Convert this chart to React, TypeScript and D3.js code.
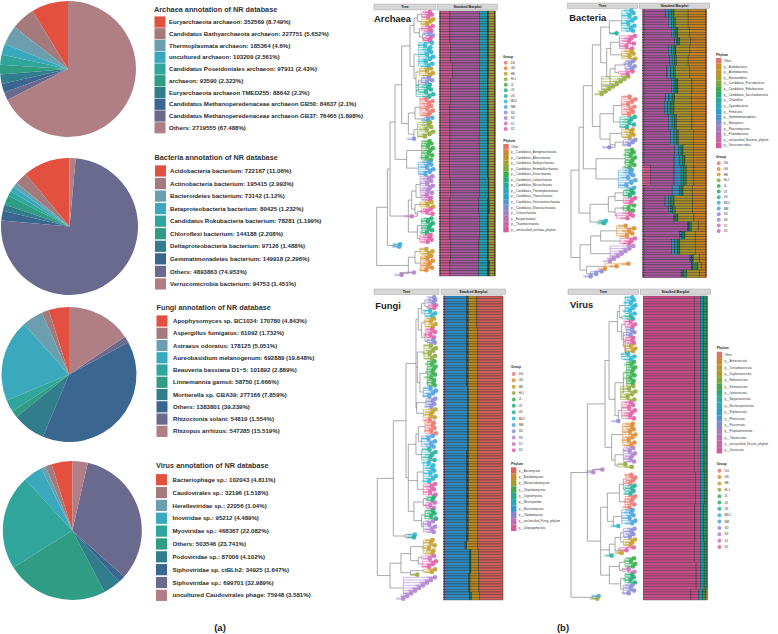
import React from 'react';
import * as d3 from 'd3';

// ---- part (a): NR annotation pies ----
const pieColors = ['#e4503f', '#a47a7c', '#6b9fb0', '#3aa9bd', '#2fa59c', '#2f9c84', '#317d8b', '#3a6690', '#6a6a8e', '#b07f86'];

const archaeaNames = ['Euryarchaeota archaeon', 'Candidatus Bathyarchaeota archaeon', 'Thermoplasmata archaeon', 'uncultured archaeon', 'Candidatus Poseidoniales archaeon', 'archaeon', 'Euryarchaeota archaeon TMED255', 'Candidatus Methanoperedenaceae archaeon GB50', 'Candidatus Methanoperedenaceae archaeon GB37', 'Others'];
const archaeaValues = [352569, 227751, 185364, 103209, 97911, 93590, 88642, 84637, 76465, 2719555];
const archaeaPct = ['8.749', '5.652', '4.6', '2.561', '2.43', '2.323', '2.2', '2.1', '1.898', '67.488'];

const bacteriaNames = ['Acidobacteria bacterium', 'Actinobacteria bacterium', 'Bacteroidetes bacterium', 'Betaproteobacteria bacterium', 'Candidatus Rokubacteria bacterium', 'Chloroflexi bacterium', 'Deltaproteobacteria bacterium', 'Gemmatimonadetes bacterium', 'Others', 'Verrucomicrobia bacterium'];
const bacteriaValues = [722167, 195415, 73142, 80425, 78281, 144188, 97126, 149918, 4893863, 94753];
const bacteriaPct = ['11.06', '2.993', '1.12', '1.232', '1.199', '2.208', '1.488', '2.296', '74.953', '1.451'];

const fungiNames = ['Apophysomyces sp. BC1034', 'Aspergillus fumigatus', 'Astraeus odoratus', 'Aureobasidium melanogenum', 'Beauveria bassiana D1−5', 'Linnemannia gamsii', 'Mortierella sp. GBA39', 'Others', 'Rhizoctonia solani', 'Rhizopus arrhizus'];
const fungiValues = [170780, 61092, 178125, 692889, 101892, 58750, 277166, 1383801, 54819, 547285];
const fungiPct = ['4.843', '1.732', '5.051', '19.648', '2.889', '1.666', '7.859', '39.239', '1.554', '15.519'];

const virusNames = ['Bacteriophage sp.', 'Caudovirales sp.', 'Herelleviridae sp.', 'Inoviridae sp.', 'Myoviridae sp.', 'Others', 'Podoviridae sp.', 'Siphoviridae sp. ctBLh2', 'Siphoviridae sp.', 'uncultured Caudovirales phage'];
const virusValues = [102043, 32196, 22056, 95212, 468367, 503546, 87006, 34925, 699701, 75948];
const virusPct = ['4.811', '1.518', '1.04', '4.489', '22.082', '23.741', '4.102', '1.647', '32.989', '3.581'];

// ---- part (b): sample groups and phyla ----
const groups = ['DG', 'GS', 'HB', 'HLJ', 'JL', 'JX', 'LN', 'MDJ', 'NM', 'SD', 'SX', 'XJ', 'XZ'];
const groupColors = ['#ec7a72', '#e08c35', '#c5a030', '#93ab3f', '#3bb050', '#22ae72', '#25b29e', '#2fb7d0', '#4da3e0', '#8b8fd8', '#b083cf', '#d070c0', '#e360a6'];

const phylumColors16 = ['#e0736c', '#ce872e', '#bc962b', '#a39e2d', '#7ba83a', '#3fa84f', '#2ba874', '#2aa795', '#2aa6b4', '#2aa0cc', '#4b95d0', '#7f8bca', '#a27fc0', '#b66fb2', '#c865a5', '#d95a98'];
const phylumColors10 = ['#d9625c', '#c98a26', '#a39e2d', '#3fa84f', '#2aa78a', '#2aa6b4', '#2a9dd0', '#8b85cc', '#c06ab0', '#d95a98'];

const archaeaPhyla = ['Other', 'p__Candidatus_Aenigmarchaeota', 'p__Candidatus_Altiarchaeota', 'p__Candidatus_Bathyarchaeota', 'p__Candidatus_Heimdallarchaeota', 'p__Candidatus_Korarchaeota', 'p__Candidatus_Lokiarchaeota', 'p__Candidatus_Micrarchaeota', 'p__Candidatus_Thermoplasmatota', 'p__Candidatus_Thorarchaeota', 'p__Candidatus_Verstraetearchaeota', 'p__Candidatus_Woesearchaeota', 'p__Crenarchaeota', 'p__Euryarchaeota', 'p__Thaumarchaeota', 'p__unclassified_archaea_phylum'];
const bacteriaPhyla = ['Other', 'p__Acidobacteria', 'p__Actinobacteria', 'p__Bacteroidetes', 'p__Candidatus_Parcubacteria', 'p__Candidatus_Rokubacteria', 'p__Candidatus_Saccharibacteria', 'p__Chloroflexi', 'p__Cyanobacteria', 'p__Firmicutes', 'p__Gemmatimonadetes', 'p__Nitrospirae', 'p__Planctomycetes', 'p__Proteobacteria', 'p__unclassified_Bacteria_phylum', 'p__Verrucomicrobia'];
const fungiPhyla = ['p__Ascomycota', 'p__Basidiomycota', 'p__Blastocladiomycota', 'p__Chytridiomycota', 'p__Cryptomycota', 'p__Microsporidia', 'p__Mucoromycota', 'p__Olpidiomycota', 'p__unclassified_Fungi_phylum', 'p__Zoopagomycota'];
const virusPhyla = ['Other', 'p__Artverviricota', 'p__Cressdnaviricota', 'p__Duplornaviricota', 'p__Hofneiviricota', 'p__Kitrinoviricota', 'p__Lenarviricota', 'p__Negarnaviricota', 'p__Nucleocytoviricota', 'p__Peploviricota', 'p__Phixviricota', 'p__Pisuviricota', 'p__Preplasmiviricota', 'p__Taleaviricota', 'p__unclassified_Viruses_phylum', 'p__Uroviricota'];

// stacks, left to right; each block = [rows, ...percent per stack key]
const archaeaStack = ['#c9558f', '#c9558f', '#a4589c', '#1f9fae', '#16463a', '#a8922b', '#7a6a20'];
const archaeaBlocks = [
  [12, 1.5, 17, 53, 15, 1.5, 10, 2],
  [8, 1.5, 18, 51.5, 15.5, 1.5, 10, 2],
  [6, 1.5, 21, 49, 15, 1.5, 10, 2],
  [10, 1.5, 18, 52, 14.5, 1.5, 10.5, 2],
  [10, 1.5, 17, 53, 15, 1.5, 10, 2],
  [8, 1.5, 17, 52.5, 15.5, 1.5, 10, 2],
  [10, 1.5, 16.5, 53.5, 15, 1.5, 10, 2],
  [8, 1.5, 17.5, 52, 16, 1.5, 9.5, 2],
  [6, 1.5, 17, 52, 16, 2.5, 9, 2],
  [10, 1.5, 17, 53, 15, 1.5, 10, 2],
  [8, 1.5, 18, 51, 15.5, 2, 10, 2],
  [6, 1.5, 17, 51, 17, 3, 8.5, 2],
];

const bacteriaStack = ['#d9558f', '#a8559c', '#3a8fc4', '#1b9c94', '#2a8a50', '#a8912a', '#c5801f', '#c9606a'];
const bacteriaBlocks = [
  [3, 2, 34, 5, 4, 4, 22, 27, 2],
  [4, 2, 38, 5, 3, 3, 20, 27, 2],
  [4, 2, 43, 4, 3, 3, 18, 25, 2],
  [3, 2, 48, 3, 2, 3, 17, 23, 2],
  [4, 2, 38, 5, 4, 3, 21, 25, 2],
  [4, 2, 40, 4, 4, 3, 18, 27, 2],
  [5, 2, 36, 6, 4, 3, 22, 25, 2],
  [6, 2, 43, 4, 3, 3, 22, 21, 2],
  [3, 2, 34, 5, 5, 4, 26, 22, 2],
  [5, 2, 32, 5, 5, 5, 27, 22, 2],
  [6, 2, 38, 6, 4, 3, 24, 21, 2],
  [6, 2, 41, 6, 4, 3, 23, 19, 2],
  [4, 2, 48, 6, 4, 3, 16, 19, 2],
  [4, 2, 47, 8, 5, 4, 13, 19, 2],
  [8, 12, 37, 11, 4, 4, 12, 18, 2],
  [4, 2, 44, 11, 3, 3, 15, 20, 2],
  [4, 2, 33, 5, 4, 5, 29, 20, 2],
  [3, 2, 38, 4, 3, 4, 27, 20, 2],
  [3, 2, 46, 2, 2, 3, 25, 18, 2],
  [4, 2, 68, 2, 1, 3, 11, 11, 2],
  [3, 2, 56, 3, 2, 3, 16, 16, 2],
  [6, 2, 43, 5, 5, 3, 24, 16, 2],
  [3, 2, 72, 2, 1, 2, 10, 9, 2],
  [3, 2, 74, 1, 1, 8, 6, 6, 2],
  [3, 2, 58, 2, 2, 5, 20, 9, 2],
];

const fungiStack = ['#c265a8', '#2d8cc4', '#1f7a45', '#b98a20', '#cf5f58'];
const fungiBlocks = [
  [12, 2, 37, 2.5, 14.5, 44],
  [22, 2, 37, 2.5, 15.5, 43],
  [24, 2, 38, 2, 15, 43],
  [20, 2, 37, 3, 15, 43],
  [14, 2, 37, 2.5, 15, 43.5],
  [3, 2, 34, 3, 18, 43],
  [9, 2, 41, 3, 13, 41],
  [7, 2, 40, 2.5, 15, 40.5],
  [3, 2, 42, 3, 13, 40],
];

const virusStack = ['#cb4f8d', '#cb4f8d', '#1b9fb0', '#2f9a58', '#c8852a'];
const virusBlocks = [
  [24, 79, 9.5, 5.5, 5, 1],
  [8, 80, 8.5, 5.5, 5, 1],
  [20, 79.5, 9, 5.5, 5, 1],
  [14, 79, 9.5, 5.8, 4.7, 1],
  [12, 81, 7.5, 6, 4.5, 1],
  [14, 80, 8.5, 5.5, 5, 1],
  [8, 79, 9.5, 6, 4.5, 1],
  [10, 82, 6.5, 6, 4.5, 1],
  [4, 74, 12, 6, 5, 3],
];

// trees: internal = [distance, ...children], tip clade = [group, tips, distance, ladder end?]
type Spec = any;
const archaeaTree: Spec = [110,
  [142,
    [150,
      [165,
        [185,
          [210,
            [222, [232, ['XZ', 3, 245], ['HB', 3, 245]], [238, ['XZ', 3, 245], [248, ['SD', 2, 255], ['XZ', 2, 250]]]],
            [222, ['MDJ', 11, 236], [228, ['HB', 4, 238], [235, ['SD', 3, 245], ['LN', 6, 228]]]],
          ],
          [205,
            [225, ['DG', 8, 240], ['NM', 2, 252]],
            [222, ['HLJ', 7, 232], ['SD', 1, 222]],
          ],
        ],
        [200, ['JL', 9, 245], ['NM', 6, 235]],
      ],
      [205,
        [215, [228, ['SX', 8, 240], ['XJ', 3, 245]], [225, ['HB', 3, 240], [232, ['XZ', 3, 245], ['XJ', 1, 215]]]],
        [232, ['JX', 7, 245], ['XZ', 4, 240]],
      ],
    ],
    [165, ['MDJ', 1, 180], ['NM', 1, 178]],
  ],
  [205,
    [225, ['HB', 3, 240], ['GS', 7, 242]],
    [180, ['SX', 1, 222], ['SX', 1, 185]],
  ],
];

const bacteriaTree: Spec = [33,
  [57,
    [70,
      [97,
        [122,
          [148, ['MDJ', 9, 185], ['LN', 1, 170]],
          [140,
            [152, ['XZ', 6, 178], ['HB', 4, 185]],
            [150, [165, ['SD', 4, 195], ['XZ', 2, 175]], ['HLJ', 8, 125, 205]],
          ],
        ],
        [120,
          [160, ['DG', 8, 185], ['LN', 5, 180]],
          [150, ['HB', 4, 185], [165, ['SD', 3, 190], ['SD', 1, 148]]],
        ],
      ],
      [108, ['JL', 8, 195], ['NM', 8, 175]],
    ],
    [90,
      [145, [165, ['JX', 3, 190], ['XZ', 3, 190]], [165, ['JL', 3, 190], ['XZ', 3, 170]]],
      [125, ['MDJ', 1, 138], ['LN', 1, 132]],
    ],
  ],
  [60,
    [92,
      [122, ['GS', 5, 170], ['XZ', 3, 180]],
      ['SX', 7, 150, 220],
    ],
    [80, ['GS', 3, 135, 205], ['SD', 3, 92, 125]],
  ],
];

const fungiTree: Spec = [112,
  [160,
    [198,
      [228,
        [235, [245, [255, ['SD', 3, 270], ['XZ', 2, 265]], ['MDJ', 3, 255]], [245, ['HB', 4, 255], [255, ['XZ', 4, 258], ['SD', 2, 262]]]],
        [232, ['HLJ', 6, 252], [240, ['JL', 10, 262], ['NM', 4, 250]]],
        [230, ['SD', 4, 258], ['HB', 4, 250]],
      ],
      [205,
        [228, [235, ['DG', 6, 255], ['NM', 5, 245]], ['LN', 5, 245]],
        [232, ['MDJ', 8, 250], ['XZ', 5, 250]],
        [222, [250, ['JX', 2, 262], ['XJ', 3, 258]], [245, ['JX', 4, 255], ['SX', 5, 250]]],
      ],
    ],
    [195, ['MDJ', 1, 225], ['LN', 1, 222]],
  ],
  [150,
    [183,
      [212, ['HB', 6, 250], [235, ['XJ', 2, 245], ['XZ', 3, 248]]],
      [212, ['HB', 2, 250], ['HLJ', 1, 232]],
    ],
    ['SX', 9, 190, 285],
  ],
];

const virusTree: Spec = [33,
  [82,
    [135,
      [147,
        [172,
          [178, ['MDJ', 7, 195], ['LN', 2, 185]],
          [185, ['XZ', 3, 195], [190, ['SD', 3, 200], [195, ['XZ', 3, 195], [198, ['HB', 3, 195], ['MDJ', 3, 185]]]]],
        ],
        [165, [190, ['JL', 9, 200], ['HLJ', 6, 182]], [175, ['XZ', 7, 185], ['SD', 1, 175]]],
      ],
      [155,
        ['GS', 9, 188],
        [165, ['SX', 6, 190], ['HLJ', 2, 172]],
      ],
    ],
    [98, ['SX', 1, 127], ['SX', 1, 100]],
    [122,
      [142,
        [178, [190, ['DG', 4, 198], ['LN', 4, 195]], ['DG', 5, 195]],
        [160, ['NM', 6, 185], ['MDJ', 1, 175]],
      ],
      [148,
        [165, [182, ['SD', 4, 190], ['HB', 3, 190]], [175, ['XZ', 2, 178], ['HB', 1, 185]]],
        ['LN', 1, 155],
      ],
      [148,
        [178, ['JL', 4, 195], ['XJ', 2, 188]],
        [182, ['JX', 4, 195], ['SD', 4, 190]],
      ],
    ],
  ],
  [98, ['NM', 1, 116], ['HLJ', 1, 112]],
];

const tipSpread = [0.55, 0.8, 0.35, 1, 0.65, 0.2, 0.9, 0.5, 0.75, 0.3, 0.95, 0.6, 0.4, 0.85, 0.15, 0.7];

const W = 778;
const H = 634;
const sans = '"Liberation Sans", Arial, sans-serif';

const pies = [
  { title: 'Archaea annotation of NR database', names: archaeaNames, values: archaeaValues, pct: archaeaPct, cx: 68, cy: 69, r: 68, tx: 154, ty: 9, sx: 154.5, lx: 169, y0: 22, step: 11.75 },
  { title: 'Bacteria annotation of NR database', names: bacteriaNames, values: bacteriaValues, pct: bacteriaPct, cx: 69.5, cy: 226.5, r: 68.5, tx: 154.5, ty: 157, sx: 155, lx: 170, y0: 171, step: 12.55 },
  { title: 'Fungi annotation of NR database', names: fungiNames, values: fungiValues, pct: fungiPct, cx: 69, cy: 374.5, r: 67.5, tx: 156.5, ty: 307.3, sx: 156.5, lx: 173, y0: 321, step: 12.26 },
  { title: 'Virus annotation of NR database', names: virusNames, values: virusValues, pct: virusPct, cx: 72.3, cy: 530.5, r: 69.5, tx: 156, ty: 465.7, sx: 156, lx: 172.5, y0: 479.7, step: 12.85 },
];

const panels = [
  {
    title: 'Archaea', tree: archaeaTree, dist: [110, 285], distPx: [376.7, 435], tipEnd: 280, blocks: archaeaBlocks, stack: archaeaStack,
    stripTree: [374, 436], stripBar: [437.3, 497.7], stripY: [4, 10], bar: [439.7, 495.3, 11, 276], titleX: 374, titleY: 19,
    phyla: archaeaPhyla, phylaColors: phylumColors16, phX: 503.3, phY: 141, phTop: 144, phStep: 5.52,
    grX: 503, grY: 57, grTop: 62.7, grStep: 5.53,
  },
  {
    title: 'Bacteria', tree: bacteriaTree, dist: [33, 230], distPx: [571, 636.7], tipEnd: 226, blocks: bacteriaBlocks, stack: bacteriaStack,
    stripTree: [567.3, 637.7], stripBar: [639.3, 709.7], stripY: [3, 8.5], bar: [642.7, 706.7, 9.3, 277.7], titleX: 569.3, titleY: 17.3,
    phyla: bacteriaPhyla, phylaColors: phylumColors16, phX: 716, phY: 55, phTop: 58, phStep: 5.64,
    grX: 716, grY: 157.3, grTop: 163.3, grStep: 5.65,
  },
  {
    title: 'Fungi', tree: fungiTree, dist: [112, 292], distPx: [377.3, 437.3], tipEnd: 288, blocks: fungiBlocks, stack: fungiStack,
    stripTree: [374, 439], stripBar: [441, 505.7], stripY: [289, 294.5], bar: [443.7, 503, 296, 600], titleX: 375.3, titleY: 305.7,
    phyla: fungiPhyla, phylaColors: phylumColors10, phX: 511, phY: 463.7, phTop: 467.3, phStep: 6.37,
    grX: 511, grY: 367.3, grTop: 374, grStep: 6.36,
  },
  {
    title: 'Virus', tree: virusTree, dist: [33, 230], distPx: [571, 636.7], tipEnd: 226, blocks: virusBlocks, stack: virusStack,
    stripTree: [568, 638.7], stripBar: [640.3, 710.7], stripY: [289, 294.5], bar: [643.3, 707.7, 296, 600], titleX: 570, titleY: 305,
    phyla: virusPhyla, phylaColors: phylumColors16, phX: 716.7, phY: 348.3, phTop: 351.7, phStep: 6.36,
    grX: 716.7, grY: 464, grTop: 470.7, grStep: 6.36,
  },
];

const groupColor = d3.scaleOrdinal<string, string>().domain(groups).range(groupColors);

function PieBlock({ p }: { p: (typeof pies)[number] }) {
  const arcs = d3.pie<number>().sort(null).startAngle(0).endAngle(-2 * Math.PI)(p.values);
  const arc = d3.arc<d3.PieArcDatum<number>>().innerRadius(0).outerRadius(p.r);
  return (
    <g fontFamily={sans}>
      <g transform={`translate(${p.cx},${p.cy})`}>
        {arcs.map((a, i) => <path key={i} d={arc(a) as string} fill={pieColors[i]} />)}
      </g>
      <text x={p.tx} y={p.ty} dy="0.35em" fontSize={7.3} fontWeight={700} fill="#333">{p.title}</text>
      {p.names.map((n, i) => (
        <g key={n} transform={`translate(0,${p.y0 + i * p.step})`}>
          <rect x={p.sx} y={-5.6} width={11} height={11.2} fill={pieColors[i]} />
          <text x={p.lx} dy="0.35em" fontSize={6.1} fontWeight={700} fill="#2a2a2a">
            {`${n}: ${p.values[i]} (${p.pct[i]}%)`}
          </text>
        </g>
      ))}
    </g>
  );
}

function Tree({ p }: { p: (typeof panels)[number] }) {
  const root = d3.hierarchy<Spec>(p.tree, (n: Spec) => (typeof n[0] === 'string' ? null : n.slice(1)));
  const x = d3.scaleLinear().domain(p.dist).range(p.distPx);
  let count = 0;
  const starts = new Map<any, number>();
  root.leaves().forEach((l) => { starts.set(l, count); count += l.data[1]; });
  const y = d3.scaleLinear().domain([-0.5, count - 0.5]).range([p.bar[2], p.bar[3]]);
  const rowOf = new Map<any, number>();
  root.eachAfter((n) => {
    if (n.children) {
      rowOf.set(n, (rowOf.get(n.children[0])! + rowOf.get(n.children[n.children.length - 1])!) / 2);
    } else {
      rowOf.set(n, starts.get(n)! + (n.data[1] - 1) / 2);
    }
  });
  const lines: React.ReactNode[] = [];
  const tips: React.ReactNode[] = [];
  const labels: React.ReactNode[] = [];
  root.each((n) => {
    const isLeaf = !n.children;
    const d = isLeaf ? n.data[2] : n.data[0];
    if (n.parent) {
      lines.push(<line key={`h${lines.length}`} x1={x(n.parent.data[0])} x2={x(d)} y1={y(rowOf.get(n)!)} y2={y(rowOf.get(n)!)} />);
    }
    if (n.children) {
      lines.push(<line key={`v${lines.length}`} x1={x(d)} x2={x(d)} y1={y(rowOf.get(n.children[0])!)} y2={y(rowOf.get(n.children[n.children.length - 1])!)} />);
      return;
    }
    const col = groupColor(n.data[0]);
    const start = starts.get(n)!;
    const num: number = n.data[1];
    const ladder: number | undefined = n.data[3];
    if (num > 1) {
      lines.push(<line key={`c${lines.length}`} x1={x(d)} x2={x(d)} y1={y(start)} y2={y(start + num - 1)} stroke={col} />);
    }
    d3.range(num).forEach((i) => {
      let u = d;
      if (num > 1) {
        u = ladder !== undefined
          ? ladder - (i / (num - 1)) * (ladder - d)
          : d + (0.35 + 0.65 * tipSpread[(start + i) % tipSpread.length]) * (p.tipEnd - d);
      }
      const cy = y(start + i);
      if (num > 1) lines.push(<line key={`t${lines.length}`} x1={x(d)} x2={x(u)} y1={cy} y2={cy} stroke={col} />);
      tips.push(<circle key={`${start}-${i}`} cx={x(u)} cy={cy} r={2.3} fill={col} fillOpacity={0.9} />);
      // small tip tag, a pale plate with the sample name, left of the dot
      labels.push(
        <g key={`${start}-${i}`}>
          <rect x={x(u) - 7.5} y={cy - 1.3} width={6.5} height={2.6} fill={col} fillOpacity={0.38} />
          <text x={x(u) - 2} y={cy} dy="0.35em" textAnchor="end" fontSize={2.2} fill={col}>{`${n.data[0]}${i + 1}`}</text>
        </g>,
      );
    });
  });
  return (
    <g fontFamily={sans}>
      <g stroke="#707070" strokeWidth={0.6} fill="none">{lines}</g>
      {labels}
      {tips}
    </g>
  );
}

function Bars({ p }: { p: (typeof panels)[number] }) {
  const keys = p.stack.map((_, i) => i);
  const rows = p.blocks.flatMap((b) => d3.range(b[0]).map(() => b.slice(1)));
  const series = d3.stack<number[], number>().keys(keys).value((r, k) => r[k])(rows);
  const x = d3.scaleLinear().domain([0, 100]).range([p.bar[0], p.bar[1]]);
  const y = d3.scaleBand<number>().domain(d3.range(rows.length)).range([p.bar[2], p.bar[3]]);
  return (
    <g stroke="#1a1a1a" strokeWidth={0.4} strokeOpacity={0.8}>
      {series.map((s, k) => s.map((seg, r) => (
        <rect key={`${k}-${r}`} x={x(seg[0])} y={y(r)} width={Math.max(0, Math.min(x(seg[1]), p.bar[1]) - x(seg[0]))} height={y.bandwidth()} fill={p.stack[k]} />
      )))}
    </g>
  );
}

function Panel({ p }: { p: (typeof panels)[number] }) {
  const strip = (r: number[], label: string) => (
    <g>
      <rect x={r[0]} y={p.stripY[0]} width={r[1] - r[0]} height={p.stripY[1] - p.stripY[0]} fill="#d6d6d6" stroke="#9a9a9a" strokeWidth={0.4} />
      <text x={(r[0] + r[1]) / 2} y={(p.stripY[0] + p.stripY[1]) / 2} dy="0.35em" textAnchor="middle" fontSize={3.7} fontWeight={700} fill="#222">{label}</text>
    </g>
  );
  const legendX = p.phX + 7.7;
  return (
    <g fontFamily={sans}>
      {strip(p.stripTree, 'Tree')}
      {strip(p.stripBar, 'Stacked Barplot')}
      <Tree p={p} />
      <Bars p={p} />
      <text x={p.titleX} y={p.titleY} dy="0.35em" fontSize={9.4} fontWeight={700} fill="#222">{p.title}</text>
      <text x={p.phX} y={p.phY} dy="0.35em" fontSize={3.3} fontWeight={700} fill="#222">Phylum</text>
      {p.phyla.map((n, i) => (
        <g key={n}>
          <rect x={p.phX} y={p.phTop + i * p.phStep} width={5.4} height={p.phStep} fill={p.phylaColors[i]} />
          <text x={legendX} y={p.phTop + (i + 0.5) * p.phStep} dy="0.35em" fontSize={3} fill="#333">{n}</text>
        </g>
      ))}
      <text x={p.grX} y={p.grY} dy="0.35em" fontSize={3.3} fontWeight={700} fill="#222">Group</text>
      {groups.map((n, i) => (
        <g key={n}>
          <circle cx={p.grX + 2.7} cy={p.grTop + i * p.grStep} r={2} fill={groupColors[i]} fillOpacity={0.85} />
          <text x={p.grX + 7.7} y={p.grTop + i * p.grStep} dy="0.35em" fontSize={3} fill="#333">{n}</text>
        </g>
      ))}
    </g>
  );
}

export default function App() {
  return (
    <svg width={W} height={H} viewBox={`0 0 ${W} ${H}`} style={{ position: 'absolute', left: 0, top: 0, background: '#fff' }}>
      {pies.map((p) => <PieBlock key={p.title} p={p} />)}
      {panels.map((p) => <Panel key={p.title} p={p} />)}
      <text x={220} y={628} dy="0.35em" textAnchor="middle" fontFamily={sans} fontSize={9.5} fontWeight={700} fill="#222">(a)</text>
      <text x={563} y={628} dy="0.35em" textAnchor="middle" fontFamily={sans} fontSize={9.5} fontWeight={700} fill="#222">(b)</text>
    </svg>
  );
}
